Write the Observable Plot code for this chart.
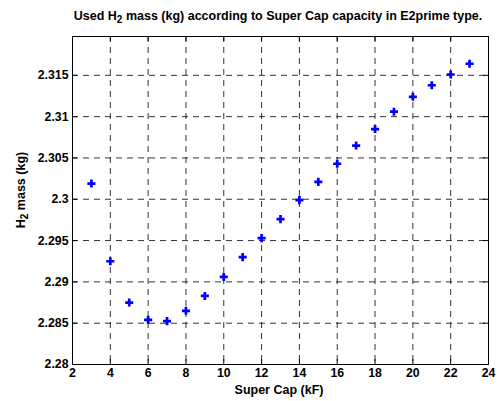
<!DOCTYPE html>
<html><head><meta charset="utf-8">
<script src="https://cdn.jsdelivr.net/npm/d3@7"></script>
<script src="https://cdn.jsdelivr.net/npm/@observablehq/plot@0.6"></script>
<style>body{margin:0;background:#fff} svg{display:block}</style>
</head><body><div id="chart"></div>
<script>
const superCap = [3,4,5,6,7,8,9,10,11,12,13,14,15,16,17,18,19,20,21,22,23];
const h2Mass = [2.3019,2.2925,2.2875,2.2854,2.28525,2.2865,2.2883,2.2906,2.2930,2.2953,2.2976,2.2999,2.3021,2.3043,2.3065,2.3085,2.3106,2.3124,2.3138,2.3151,2.3164];
const xTicks = [2,4,6,8,10,12,14,16,18,20,22,24];
const yTicks = [2.28,2.285,2.29,2.295,2.3,2.305,2.31,2.315];
const yTickLabels = ["2.28","2.285","2.29","2.295","2.3","2.305","2.31","2.315"];
const titleText = ["Used H", "2", " mass (kg) according to Super Cap capacity in E2prime type."];
const yLabelText = ["H", "2", " mass (kg)"];
const xLabelText = "Super Cap (kF)";

const W = 501, H = 401, mL = 72, mT = 36, mR = 13, mB = 37;
const plotW = W - mL - mR, plotH = H - mT - mB;
const font = "'Liberation Sans', Arial, Helvetica, sans-serif";
const points = superCap.map((x, i) => ({x, y: h2Mass[i]}));
const yLabelMap = new Map(yTicks.map((t, i) => [t, yTickLabels[i]]));

const chart = Plot.plot({
  width: W, height: H,
  marginLeft: mL, marginTop: mT, marginRight: mR, marginBottom: mB,
  style: {fontFamily: font, fontSize: "12.3px", fontWeight: "bold", background: "#fff", color: "#000"},
  x: {domain: [2, 24]},
  y: {domain: [2.28, 2.3197]},
  marks: [
    Plot.gridX(xTicks, {stroke: "#000", strokeOpacity: 0.8, strokeDasharray: "6,5"}),
    Plot.gridY(yTicks, {stroke: "#000", strokeOpacity: 0.8, strokeDasharray: "6,5"}),
    Plot.tickX(xTicks, {x: d => d, insetTop: plotH - 5, stroke: "#000"}),
    Plot.tickX(xTicks, {x: d => d, insetBottom: plotH - 5, stroke: "#000"}),
    Plot.tickY(yTicks, {y: d => d, insetRight: plotW - 5, stroke: "#000"}),
    Plot.tickY(yTicks, {y: d => d, insetLeft: plotW - 5, stroke: "#000"}),
    Plot.frame({stroke: "#000"}),
    Plot.axisX(xTicks, {tickSize: 0, tickPadding: 4, label: null}),
    Plot.axisY(yTicks, {tickSize: 0, tickPadding: 4, label: null, tickFormat: d => yLabelMap.get(d)}),
    Plot.dot(points, {x: "x", y: "y", symbol: "cross", r: 3.4, fill: "#0000ff", stroke: "none"})
  ]
});

const svg = d3.select(chart);
const txtStyle = s => s.attr("font-family", font).attr("font-size", 12.5).attr("font-weight", "bold").attr("fill", "#000");

const title = svg.append("text").attr("x", mL + plotW / 2 - 2).attr("y", 20).attr("text-anchor", "middle").call(txtStyle);
title.append("tspan").text(titleText[0]);
title.append("tspan").attr("dy", 3).attr("font-size", 10).text(titleText[1]);
title.append("tspan").attr("dy", -3).text(titleText[2]);

const yl = svg.append("text").attr("transform", `translate(25,${mT + plotH / 2 - 10}) rotate(-90)`).attr("text-anchor", "middle").call(txtStyle);
yl.append("tspan").text(yLabelText[0]);
yl.append("tspan").attr("dy", 3).attr("font-size", 10).text(yLabelText[1]);
yl.append("tspan").attr("dy", -3).text(yLabelText[2]);

svg.append("text").attr("x", mL + plotW / 2 - 1).attr("y", 394).attr("text-anchor", "middle").call(txtStyle).text(xLabelText);

document.getElementById("chart").appendChild(chart);
</script>
</body></html>
